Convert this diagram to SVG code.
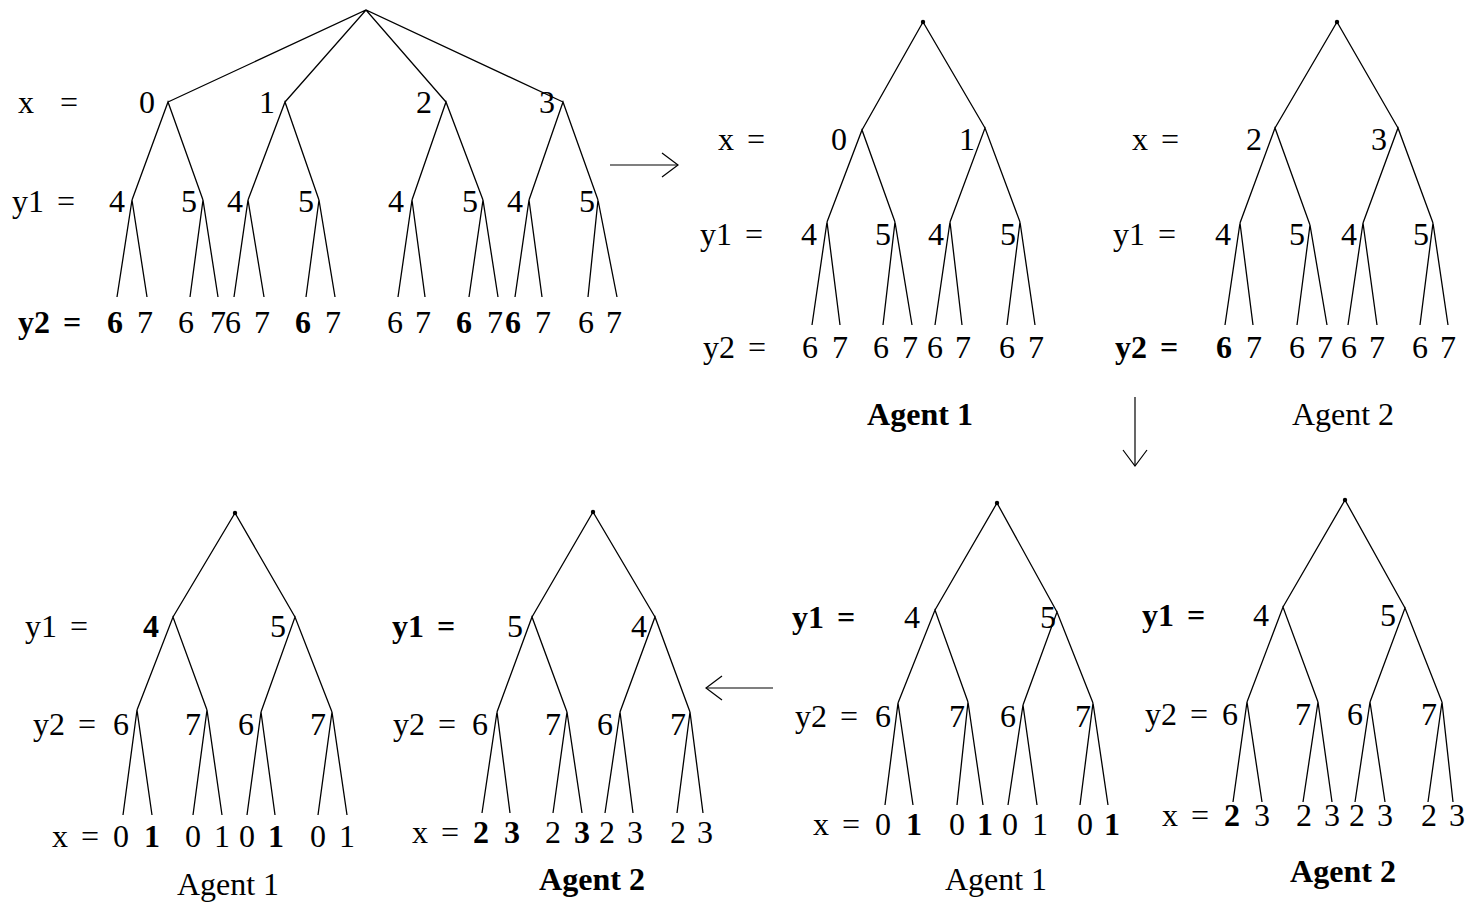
<svg xmlns="http://www.w3.org/2000/svg" width="1467" height="906" viewBox="0 0 1467 906">
<style>
text{font-family:"Liberation Serif","Times New Roman",serif;font-size:32px;fill:#000}
.c{text-anchor:middle}
.b{font-weight:bold}
.r{word-spacing:5px}
.ag{font-size:32px;text-anchor:middle}
.e{fill:none;stroke:#000;stroke-width:1.3;stroke-linejoin:miter}
.a{fill:none;stroke:#000;stroke-width:1.2}
</style>
<defs>
<marker id="ah" viewBox="0 0 18 26" refX="17" refY="13" markerWidth="18" markerHeight="26" markerUnits="userSpaceOnUse" orient="auto">
<path d="M1,1 L17,13 L1,25" fill="none" stroke="#000" stroke-width="1.2"/>
</marker>
</defs>
<rect width="1467" height="906" fill="#fff"/>

<g id="tree-full">
<path class="e" d="M168,102 L366,10 L563,102 M285,102 L366,10 L446,102"/>
<path class="e" d="M132,200 L168,102 L203,200 M248,200 L285,102 L319,200 M412,200 L446,102 L483,200 M529,200 L563,102 L598,200"/>
<path class="e" d="M117,297 L132,200 L147,297 M190,297 L203,200 L218,297 M234,297 L248,200 L264,297 M306,297 L319,200 L335,297 M398,297 L412,200 L425,297 M469,297 L483,200 L498,297 M515,297 L529,200 L542,297 M588,297 L598,200 L617,297"/>
<text x="18" y="113" style="word-spacing:18px">x =</text>
<text x="12" y="212" class="r">y1 =</text>
<text x="18" y="333" class="r b">y2 =</text>
<text class="c" x="147" y="113">0</text><text class="c" x="267" y="113">1</text><text class="c" x="424" y="113">2</text><text class="c" x="547" y="113">3</text>
<text class="c" x="117" y="212">4</text><text class="c" x="189" y="212">5</text><text class="c" x="235" y="212">4</text><text class="c" x="306" y="212">5</text><text class="c" x="396" y="212">4</text><text class="c" x="470" y="212">5</text><text class="c" x="515" y="212">4</text><text class="c" x="587" y="212">5</text>
<text class="c b" x="115" y="333">6</text><text class="c" x="145" y="333">7</text><text class="c" x="186" y="333">6</text><text class="c" x="218" y="333">7</text><text class="c" x="233" y="333">6</text><text class="c" x="262" y="333">7</text><text class="c b" x="303" y="333">6</text><text class="c" x="333" y="333">7</text><text class="c" x="395" y="333">6</text><text class="c" x="423" y="333">7</text><text class="c b" x="464" y="333">6</text><text class="c" x="495" y="333">7</text><text class="c b" x="513" y="333">6</text><text class="c" x="543" y="333">7</text><text class="c" x="586" y="333">6</text><text class="c" x="614" y="333">7</text>
</g>

<g id="tree-top-agent1">
<circle cx="923" cy="22" r="2.2"/>
<path class="e" d="M862,130 L923,22 L985,128"/>
<path class="e" d="M827,222 L862,130 L895,222 M950,222 L985,128 L1020,222"/>
<path class="e" d="M812,325 L827,222 L840,325 M883,325 L895,222 L912,325 M935,325 L950,222 L962,325 M1007,325 L1020,222 L1035,325"/>
<text x="718" y="150" class="r">x =</text>
<text x="700" y="245" class="r">y1 =</text>
<text x="703" y="358" class="r">y2 =</text>
<text class="c" x="839" y="150">0</text><text class="c" x="967" y="150">1</text>
<text class="c" x="809" y="245">4</text><text class="c" x="883" y="245">5</text><text class="c" x="936" y="245">4</text><text class="c" x="1008" y="245">5</text>
<text class="c" x="810" y="358">6</text><text class="c" x="840" y="358">7</text><text class="c" x="881" y="358">6</text><text class="c" x="910" y="358">7</text><text class="c" x="935" y="358">6</text><text class="c" x="963" y="358">7</text><text class="c" x="1007" y="358">6</text><text class="c" x="1036" y="358">7</text>
<text class="ag b" x="920" y="425">Agent 1</text>
</g>

<g id="tree-top-agent2">
<circle cx="1337" cy="22" r="2.2"/>
<path class="e" d="M1275,128 L1337,22 L1398,128"/>
<path class="e" d="M1240,223 L1275,128 L1310,225 M1363,223 L1398,128 L1433,223"/>
<path class="e" d="M1225,325 L1240,223 L1253,325 M1297,325 L1310,225 L1327,325 M1348,325 L1363,223 L1377,325 M1420,325 L1433,223 L1448,325"/>
<text x="1132" y="150" class="r">x =</text>
<text x="1113" y="245" class="r">y1 =</text>
<text x="1115" y="358" class="r b">y2 =</text>
<text class="c" x="1254" y="150">2</text><text class="c" x="1379" y="150">3</text>
<text class="c" x="1223" y="245">4</text><text class="c" x="1297" y="245">5</text><text class="c" x="1349" y="245">4</text><text class="c" x="1421" y="245">5</text>
<text class="c b" x="1224" y="358">6</text><text class="c" x="1254" y="358">7</text><text class="c" x="1297" y="358">6</text><text class="c" x="1325" y="358">7</text><text class="c" x="1349" y="358">6</text><text class="c" x="1377" y="358">7</text><text class="c" x="1420" y="358">6</text><text class="c" x="1448" y="358">7</text>
<text class="ag" x="1343" y="425">Agent 2</text>
</g>

<g id="tree-bottom-agent1-a">
<circle cx="235" cy="513" r="2.2"/>
<path class="e" d="M173,617 L235,513 L295,617"/>
<path class="e" d="M137,710 L173,617 L207,710 M261,712 L295,617 L332,712"/>
<path class="e" d="M123,815 L137,710 L152,815 M193,815 L207,710 L222,815 M247,815 L261,712 L275,815 M318,815 L332,712 L347,815"/>
<text x="25" y="637" class="r">y1 =</text>
<text x="33" y="735" class="r">y2 =</text>
<text x="52" y="847" class="r">x =</text>
<text class="c b" x="151" y="637">4</text><text class="c" x="278" y="637">5</text>
<text class="c" x="121" y="735">6</text><text class="c" x="193" y="735">7</text><text class="c" x="246" y="735">6</text><text class="c" x="318" y="735">7</text>
<text class="c" x="121" y="847">0</text><text class="c b" x="152" y="847">1</text><text class="c" x="193" y="847">0</text><text class="c" x="222" y="847">1</text><text class="c" x="247" y="847">0</text><text class="c b" x="276" y="847">1</text><text class="c" x="318" y="847">0</text><text class="c" x="347" y="847">1</text>
<text class="ag" x="228" y="895">Agent 1</text>
</g>

<g id="tree-bottom-agent2-a">
<circle cx="593" cy="512" r="2.2"/>
<path class="e" d="M532,617 L593,512 L655,617"/>
<path class="e" d="M497,712 L532,617 L567,712 M620,712 L655,617 L690,712"/>
<path class="e" d="M482,813 L497,712 L510,813 M553,813 L567,712 L582,813 M605,813 L620,712 L633,813 M677,813 L690,712 L703,813"/>
<text x="392" y="637" class="r b">y1 =</text>
<text x="393" y="735" class="r">y2 =</text>
<text x="412" y="843" class="r">x =</text>
<text class="c" x="515" y="637">5</text><text class="c" x="639" y="637">4</text>
<text class="c" x="480" y="735">6</text><text class="c" x="553" y="735">7</text><text class="c" x="605" y="735">6</text><text class="c" x="678" y="735">7</text>
<text class="c b" x="481" y="843">2</text><text class="c b" x="512" y="843">3</text><text class="c" x="553" y="843">2</text><text class="c b" x="582" y="843">3</text><text class="c" x="607" y="843">2</text><text class="c" x="635" y="843">3</text><text class="c" x="678" y="843">2</text><text class="c" x="705" y="843">3</text>
<text class="ag b" x="592" y="890">Agent 2</text>
</g>

<g id="tree-bottom-agent1-b">
<circle cx="997" cy="503" r="2.2"/>
<path class="e" d="M935,610 L997,503 L1057,612"/>
<path class="e" d="M898,703 L935,610 L968,702 M1023,705 L1057,612 L1093,703"/>
<path class="e" d="M885,805 L898,703 L913,805 M957,805 L968,702 L983,805 M1008,805 L1023,705 L1037,805 M1080,805 L1093,703 L1108,805"/>
<text x="792" y="628" class="r b">y1 =</text>
<text x="795" y="727" class="r">y2 =</text>
<text x="813" y="835" class="r">x =</text>
<text class="c" x="912" y="628">4</text><text class="c" x="1048" y="628">5</text>
<text class="c" x="883" y="727">6</text><text class="c" x="957" y="727">7</text><text class="c" x="1008" y="727">6</text><text class="c" x="1083" y="727">7</text>
<text class="c" x="883" y="835">0</text><text class="c b" x="914" y="835">1</text><text class="c" x="957" y="835">0</text><text class="c b" x="985" y="835">1</text><text class="c" x="1010" y="835">0</text><text class="c" x="1040" y="835">1</text><text class="c" x="1085" y="835">0</text><text class="c b" x="1112" y="835">1</text>
<text class="ag" x="996" y="890">Agent 1</text>
</g>

<g id="tree-bottom-agent2-b">
<circle cx="1345" cy="500" r="2.2"/>
<path class="e" d="M1283,607 L1345,500 L1405,608"/>
<path class="e" d="M1247,702 L1283,607 L1318,702 M1370,702 L1405,608 L1442,702"/>
<path class="e" d="M1233,802 L1247,702 L1262,802 M1303,802 L1318,702 L1332,802 M1355,802 L1370,702 L1385,802 M1428,802 L1442,702 L1453,802"/>
<text x="1142" y="626" class="r b">y1 =</text>
<text x="1145" y="725" class="r">y2 =</text>
<text x="1162" y="826" class="r">x =</text>
<text class="c" x="1261" y="626">4</text><text class="c" x="1388" y="626">5</text>
<text class="c" x="1230" y="725">6</text><text class="c" x="1303" y="725">7</text><text class="c" x="1355" y="725">6</text><text class="c" x="1429" y="725">7</text>
<text class="c b" x="1232" y="826">2</text><text class="c" x="1262" y="826">3</text><text class="c" x="1304" y="826">2</text><text class="c" x="1332" y="826">3</text><text class="c" x="1357" y="826">2</text><text class="c" x="1385" y="826">3</text><text class="c" x="1429" y="826">2</text><text class="c" x="1457" y="826">3</text>
<text class="ag b" x="1343" y="882">Agent 2</text>
</g>

<g id="connectors">
<line class="a" x1="610" y1="165" x2="678" y2="165" marker-end="url(#ah)"/>
<line class="a" x1="1135" y1="397" x2="1135" y2="466" marker-end="url(#ah)"/>
<line class="a" x1="773" y1="688" x2="706" y2="688" marker-end="url(#ah)"/>
</g>
</svg>
